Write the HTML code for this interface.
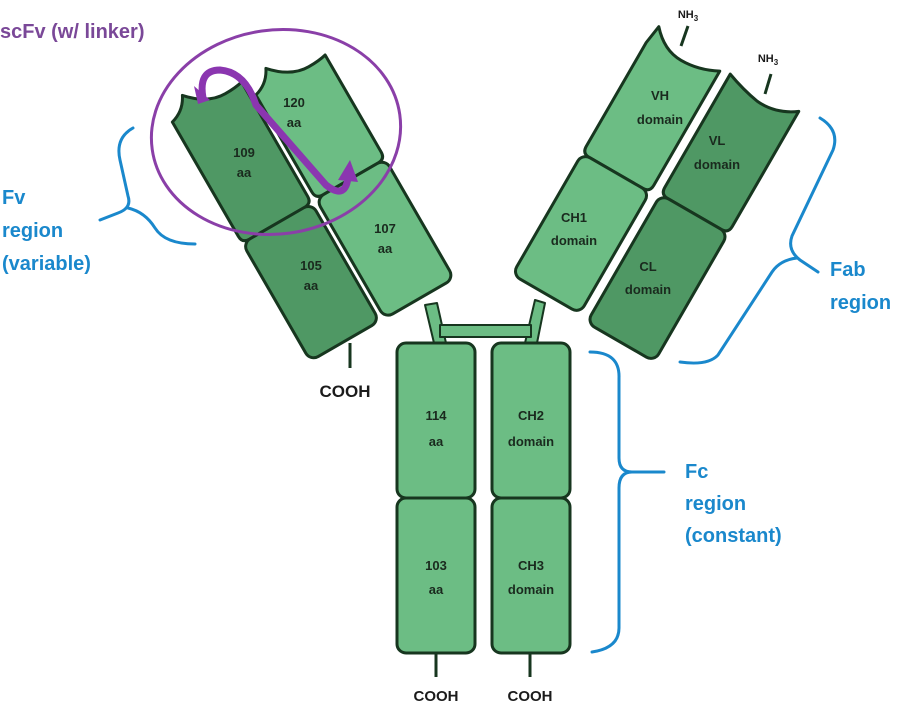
<!DOCTYPE html>
<html><head><style>
html,body{margin:0;padding:0;background:#fff;}
svg{display:block;}
text{font-family:"Liberation Sans",sans-serif;font-weight:bold;}
</style></head><body>
<svg width="912" height="706" viewBox="0 0 912 706" xmlns="http://www.w3.org/2000/svg">
<defs>
<path id="topbox" d="M-40,0 Q-25,-4 -18,-18 Q0,2 20,2 Q32,2 40,0 L40,132 Q40,140 32,140 L-32,140 Q-40,140 -40,132 Z"/>
</defs>
<g stroke="#17361f" stroke-width="3" stroke-linejoin="round">
<g fill="#6cbd84" stroke-width="2">
<path d="M425,305 L434,343 L446,343 L437,303 Z"/>
<path d="M535,300 L525,343 L537,343 L545,303 Z"/>
<rect x="440" y="325" width="91" height="12"/>
</g>
<g transform="translate(207,102) rotate(-30)" fill="#4f9864">
<use href="#topbox"/>
<rect x="-40" y="140" width="80" height="136" rx="9"/>
</g>
<g transform="translate(283,62) rotate(-30)" fill="#6cbd84">
<path d="M-40,15 Q-25,11 -18,-3 Q0,17 20,17 Q32,17 40,15 L40,127 Q40,135 32,135 L-32,135 Q-40,135 -40,127 Z"/>
<rect x="-40" y="135" width="80" height="138" rx="9"/>
</g>
<g transform="translate(680,62) rotate(30)" fill="#6cbd84">
<path d="M-39,0 L-36,-20 Q-20,-2 0,-2 Q20,-2 39,-12 L39,120 Q39,128 31,128 L-31,128 Q-39,128 -39,120 Z"/>
<rect x="-39" y="128" width="78" height="140" rx="9"/>
</g>
<g transform="translate(758,104) rotate(30)" fill="#4f9864">
<path d="M-39,0 L-39,-12 Q-20,-5 -2,-2 Q20,0 39,-14 L39,119 Q39,127 31,127 L-31,127 Q-39,127 -39,119 Z"/>
<rect x="-39" y="127" width="78" height="148" rx="9"/>
</g>
<g fill="#6cbd84">
<rect x="397" y="343" width="78" height="155" rx="9"/>
<rect x="397" y="498" width="78" height="155" rx="9"/>
<rect x="492" y="343" width="78" height="155" rx="9"/>
<rect x="492" y="498" width="78" height="155" rx="9"/>
</g>
<line x1="350" y1="343" x2="350" y2="368"/>
<line x1="436" y1="654" x2="436" y2="677"/>
<line x1="530" y1="654" x2="530" y2="677"/>
<line x1="681" y1="46" x2="688" y2="26"/>
<line x1="765" y1="94" x2="771" y2="74"/>
</g>
<g fill="#1a2a1e" font-size="13" text-anchor="middle">
<text x="244" y="157">109</text><text x="244" y="177">aa</text>
<text x="311" y="270">105</text><text x="311" y="290">aa</text>
<text x="294" y="107">120</text><text x="294" y="127">aa</text>
<text x="385" y="233">107</text><text x="385" y="253">aa</text>
<text x="660" y="100">VH</text><text x="660" y="124">domain</text>
<text x="574" y="222">CH1</text><text x="574" y="245">domain</text>
<text x="717" y="145">VL</text><text x="717" y="169">domain</text>
<text x="648" y="271">CL</text><text x="648" y="294">domain</text>
<text x="436" y="420">114</text><text x="436" y="446">aa</text>
<text x="531" y="420">CH2</text><text x="531" y="446">domain</text>
<text x="436" y="570">103</text><text x="436" y="594">aa</text>
<text x="531" y="570">CH3</text><text x="531" y="594">domain</text>
</g>
<g fill="#1b1b1b" text-anchor="middle">
<text x="345" y="397" font-size="17">COOH</text>
<text x="436" y="701" font-size="15">COOH</text>
<text x="530" y="701" font-size="15">COOH</text>
<text x="688" y="18" font-size="11">NH<tspan font-size="8" dy="3">3</tspan></text>
<text x="768" y="62" font-size="11">NH<tspan font-size="8" dy="3">3</tspan></text>
</g>
<ellipse cx="276" cy="132" rx="125" ry="102" fill="none" stroke="#8a3fa8" stroke-width="3" transform="rotate(-8 276 132)"/>
<path d="M203,98 Q198,70 220,70 Q245,72 256,105 L326,185 Q345,200 348,178" fill="none" stroke="#8b36b0" stroke-width="7" stroke-linecap="round"/>
<path d="M338,180 L350,160 L358,182 Z" fill="#8b36b0"/>
<path d="M194,86 L210,100 L198,104 Z" fill="#8b36b0"/>
<g fill="none" stroke="#1a88cc" stroke-width="3" stroke-linecap="round">
<path d="M133,128 Q115,138 120,160 L128,196 Q132,208 118,213 L100,220"/>
<path d="M128,208 Q145,212 155,228 Q165,244 195,244"/>
<path d="M820,118 Q840,130 833,150 L792,236 Q787,250 800,260 L818,272"/>
<path d="M797,258 Q780,260 772,272 L718,355 Q708,366 680,362"/>
<path d="M590,352 Q620,352 619,378 L619,458 Q619,472 632,472 L664,472"/>
<path d="M632,472 Q619,472 619,488 L619,628 Q619,648 592,652"/>
</g>
<text x="0" y="38" font-size="20" fill="#7a4898">scFv (w/ linker)</text>
<g fill="#1a88cc" font-size="20">
<text x="2" y="204">Fv</text><text x="2" y="237">region</text><text x="2" y="270">(variable)</text>
<text x="830" y="276">Fab</text><text x="830" y="309">region</text>
<text x="685" y="478">Fc</text><text x="685" y="510">region</text><text x="685" y="542">(constant)</text>
</g>
</svg>
</body></html>
